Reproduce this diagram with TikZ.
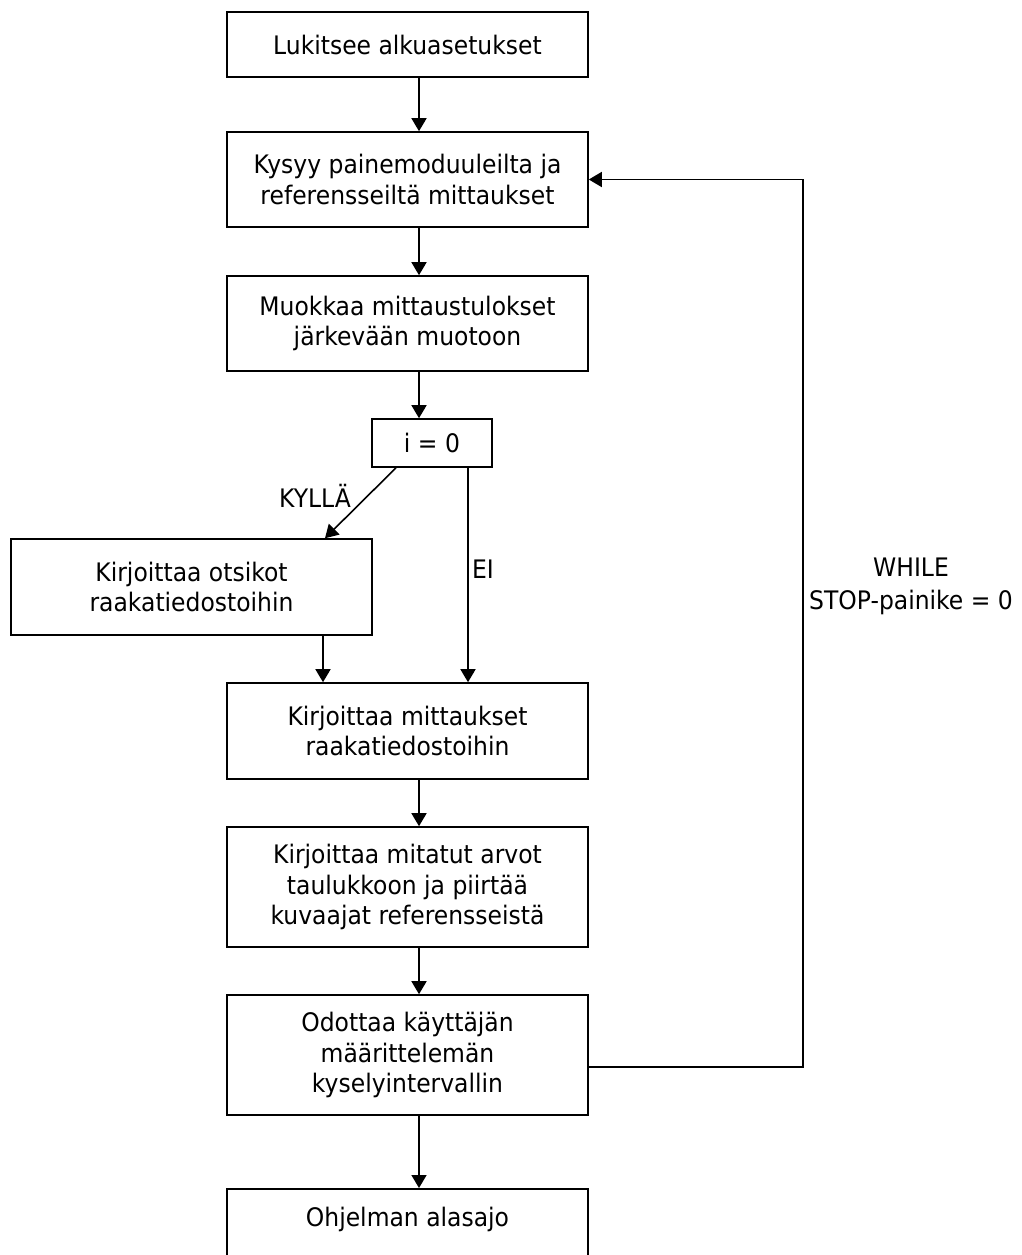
\documentclass[tikz,border=0pt]{standalone}
\usepackage{fontspec}
\setmainfont{DejaVu Sans}[FakeStretch=0.92]
\usetikzlibrary{arrows.meta}
\begin{document}
\begin{tikzpicture}[x=1pt,y=-1pt,
  stepbox/.style={draw=black, line width=1.6pt, inner sep=0pt,
    minimum width=361pt, font=\fontsize{25.5}{30.5}\selectfont},
  multi/.style={align=center},
  flow/.style={line width=1.6pt, -{Triangle[length=13pt,width=15pt]}},
  lbl/.style={font=\fontsize{25.5}{33}\selectfont, inner sep=0pt, align=center}]
\useasboundingbox (0,0) rectangle (1021,1255);
\clip (0,0) rectangle (1021,1255);
\fill[white] (0,0) rectangle (1021,1255);

% process steps
\node[stepbox, minimum height=65pt] (b1) at (407.5,44.5) {Lukitsee alkuasetukset};
\node[stepbox, multi, minimum height=95pt] (b2) at (407.5,179.5)
  {Kysyy painemoduuleilta ja\\referensseiltä mittaukset};
\node[stepbox, multi, minimum height=95pt] (b3) at (407.5,323.5)
  {Muokkaa mittaustulokset\\järkevään muotoon};
\node[stepbox, minimum width=120pt, minimum height=48pt] (b4) at (432,443) {i = 0};
\node[stepbox, multi, minimum height=96pt] (b5) at (191.5,587)
  {Kirjoittaa otsikot\\raakatiedostoihin};
\node[stepbox, multi, minimum height=96pt] (b6) at (407.5,731)
  {Kirjoittaa mittaukset\\raakatiedostoihin};
\node[stepbox, multi, minimum height=120pt] (b7) at (407.5,887)
  {Kirjoittaa mitatut arvot\\taulukkoon ja piirtää\\kuvaajat referensseistä};
\node[stepbox, multi, minimum height=120pt] (b8) at (407.5,1055)
  {Odottaa käyttäjän\\määrittelemän\\kyselyintervallin};
\node[stepbox, anchor=north, text height=38pt, text depth=34pt] (b9) at (407.5,1188)
  {Ohjelman alasajo};

% connector guide positions
\coordinate (mainx) at (419,0);
\coordinate (yesx) at (323,0);
\coordinate (nox) at (468,0);
\coordinate (kstart) at (396,0);
\coordinate (kend) at (325,0);
\coordinate (loopx) at (803,0);
\coordinate (louty) at (0,1067);

% main flow
\draw[flow] (b1.south -| mainx) -- (b2.north -| mainx);
\draw[flow] (b2.south -| mainx) -- (b3.north -| mainx);
\draw[flow] (b3.south -| mainx) -- (b4.north -| mainx);
\draw[flow] (b4.south -| kstart) -- (b5.north -| kend);
\draw[flow] (b4.south -| nox) -- (b6.north -| nox);
\draw[flow] (b5.south -| yesx) -- (b6.north -| yesx);
\draw[flow] (b6.south -| mainx) -- (b7.north -| mainx);
\draw[flow] (b7.south -| mainx) -- (b8.north -| mainx);
\draw[flow] (b8.south -| mainx) -- (b9.north -| mainx);

% loop back
\draw[flow] (b8.east |- louty) -- (loopx |- louty) -- (loopx |- b2.east) -- (b2.east);

% labels
\node[lbl] (kylla) at (315,496) {KYLLÄ};
\node[lbl] (ei) at (483,569) {EI};
\node[lbl] (while) at (911,586) {WHILE\\STOP-painike = 0};
\end{tikzpicture}
\end{document}
